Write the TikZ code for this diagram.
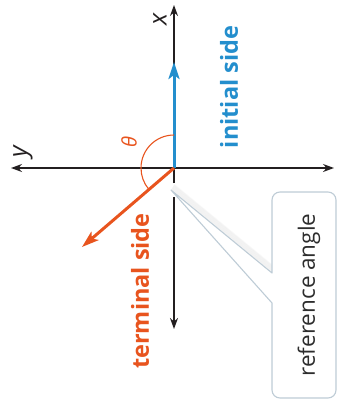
\documentclass[tikz,border=0pt]{standalone}
\usepackage{fontspec}
\setmainfont{Open Sans}
\usetikzlibrary{arrows.meta,calc}
\definecolor{iniblue}{RGB}{35,142,205}
\definecolor{termorange}{RGB}{232,84,30}
\definecolor{axisblack}{RGB}{35,31,32}
\definecolor{callborder}{RGB}{190,204,214}
\definecolor{calltext}{RGB}{45,45,45}
\begin{document}
\begin{tikzpicture}[x=1pt,y=-1pt,
  axisline/.style={draw=axisblack, line width=1.2pt},
  axistip/.style={-{Stealth[length=11pt,width=8pt]}},
  sidearrow/.style={line width=3pt,-{Stealth[length=17pt,width=11pt,inset=4pt]}},
  sidelabel/.style={font=\fontsize{23.5}{26}\selectfont\bfseries, rotate=90, inner sep=0pt},
  axislabel/.style={font=\fontsize{25}{28}\selectfont\itshape, text=axisblack, rotate=90, inner sep=0pt},
  callout/.style={draw=callborder, line width=1.1pt, fill=white, line join=round}
]
\useasboundingbox (0,0) rectangle (338,402);
% origin and axis ends
\coordinate (O) at (174,168);
\coordinate (xtop) at (174,5);
\coordinate (xbot) at (174,329);
\coordinate (yleft) at (11,168);
\coordinate (yright) at (334,168);
\coordinate (gapA) at (174,183);
\coordinate (gapB) at (174,197);
% axes
\draw[axisline,axistip] (gapA) -- (xtop);
\draw[axisline,axistip] (gapB) -- (xbot);
\draw[axisline,{Stealth[length=11pt,width=8pt]}-{Stealth[length=11pt,width=8pt]}] (yleft) -- (yright);
% callout shadow
\coordinate (tip) at (171,190);
\coordinate (pu) at (272,273);
\coordinate (pl) at (272,303);
\foreach \i in {1,...,9}{
  \draw[black, opacity=0.025, line width=1.4pt] ($(tip)+(\i*0.35,-\i*0.6)$) -- ($(pu)+(\i*0.35,-\i*0.6)$);
}
% callout
\draw[callout] (tip) -- (pu) [rounded corners=8pt] -- (272,192) -- (336,192) -- (336,398) -- (272,398) [sharp corners] -- (pl) -- cycle;
\node[rotate=90, font=\fontsize{22.5}{25}\selectfont, text=calltext, inner sep=0pt] (reflab) at (309,295) {reference angle};
% sides
\coordinate (bluetip) at (174,62);
\coordinate (orangetip) at (82,247);
\draw[iniblue, sidearrow] (O) -- (bluetip);
\draw[termorange, sidearrow] (O) -- (orangetip);
% angle arc
\draw[termorange, line width=1.1pt] (174,135) arc[start angle=270, end angle=139.7, radius=33];
% labels
\node[sidelabel, text=iniblue] (ini) at (229,87) {initial side};
\node[sidelabel, text=termorange] (term) at (140,291) {terminal side};
\node[axislabel] (xl) at (160,19) {x};
\node[axislabel] (yl) at (23,152) {y};
\node[rotate=90, text=termorange, font=\fontsize{20}{22}\selectfont\itshape, inner sep=0pt] (th) at (129,142) {θ};
\end{tikzpicture}
\end{document}
